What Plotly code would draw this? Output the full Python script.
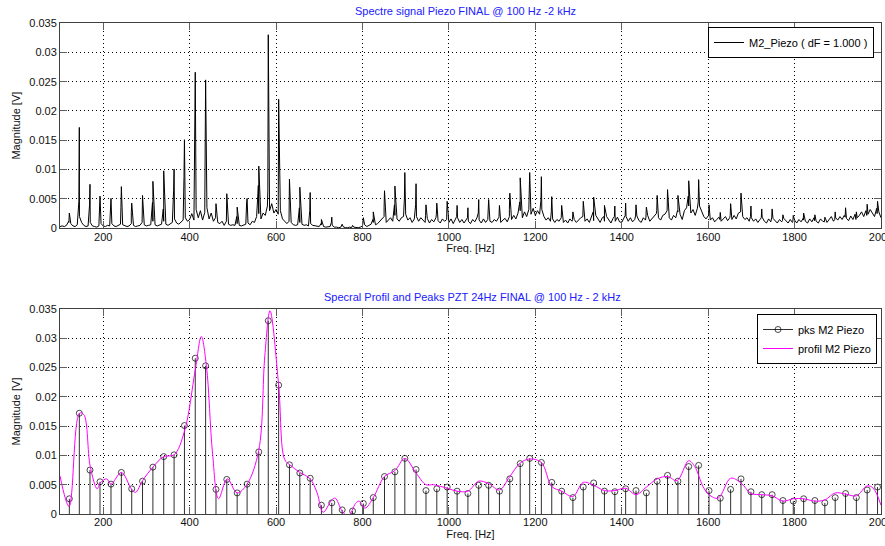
import plotly.graph_objects as go

# ---------------- data ----------------
# harmonic peaks of the piezo spectrum (Hz, V)
pk_freq = [121.6, 144.7, 169.4, 192.6, 218, 242, 266, 291, 315, 340, 364, 388, 413, 437, 461, 486, 510, 533, 560, 582,
           606, 631, 655, 679, 705,
           729, 753, 777, 802, 825, 851, 875, 898, 924, 947, 972, 996, 1019, 1044, 1069, 1092, 1117, 1141, 1165, 1187,
           1214, 1238, 1261, 1287, 1311, 1335,
           1360, 1384, 1409, 1433, 1457, 1482, 1506, 1530, 1555, 1578, 1602, 1628, 1652, 1676, 1699, 1724, 1748, 1773,
           1797, 1821, 1847, 1870, 1894, 1918, 1943, 1968, 1992]
pk_mag = [0.0026, 0.0172, 0.0075, 0.0055, 0.0051, 0.0071, 0.0043, 0.0056, 0.0080, 0.0098, 0.0101, 0.0151, 0.0266,
          0.0253, 0.0042, 0.0059, 0.0036, 0.0051, 0.0106, 0.0330, 0.0220, 0.0084, 0.0070, 0.0061, 0.0015,
          0.0019, 0.0007, 0.0005, 0.0018, 0.0028, 0.0064, 0.0072, 0.0095, 0.0076, 0.0040, 0.0043, 0.0046, 0.0039,
          0.0035, 0.0049, 0.0049, 0.0039, 0.0060, 0.0086, 0.0095, 0.0088, 0.0054, 0.0039, 0.0028, 0.0046, 0.0053,
          0.0039, 0.0038, 0.0043, 0.0040, 0.0036, 0.0056, 0.0066, 0.0056, 0.0081, 0.0083, 0.0040, 0.0027, 0.0042,
          0.0060, 0.0038, 0.0033, 0.0033, 0.0023, 0.0022, 0.0026, 0.0023, 0.0019, 0.0028, 0.0035, 0.0028, 0.0041,
          0.0046]
# neighbouring bin next to each peak (units of 1e-4 V)
side_mag_e4 = [10, 46, 40, 42, 35, 35, 27, 32, 44, 33, 65, 88, 138, 150, 33, 33, 20, 45, 73, 65, 162, 72, 35, 30, 8,
               10, 4, 3, 9, 15, 35, 40, 50, 40, 22, 24, 25, 20, 18, 26, 25, 20, 32, 45, 50, 48, 28, 20, 15, 25, 28,
               20, 20, 22, 21, 19, 30, 35, 30, 55, 45, 22, 15, 22, 32, 20, 18, 18, 13, 12, 14, 13, 11, 15, 19, 15,
               22, 25]
# noise floor of the spectrum, every 5 Hz from 100 Hz to 2000 Hz (units of 1e-4 V)
floor_mag_e4 = [
    3, 4, 3, 5, 12, 8, 4, 3, 6, 20, 10, 5, 3, 4, 10, 4, 3, 2, 4, 8,
    4, 3, 5, 4, 8, 4, 3, 5, 7, 6, 4, 3, 4, 8, 5, 3, 4, 5, 10, 6,
    4, 5, 6, 12, 6, 4, 5, 7, 12, 7, 5, 8, 10, 16, 9, 7, 10, 14, 18, 12,
    15, 25, 14, 32, 18, 30, 14, 27, 35, 16, 26, 12, 18, 10, 8, 12, 5, 12, 7, 5,
    6, 5, 8, 5, 4, 6, 7, 9, 6, 12, 10, 20, 25, 16, 26, 22, 38, 30, 42, 26,
    32, 24, 30, 16, 12, 8, 12, 10, 6, 5, 6, 10, 7, 5, 6, 4, 8, 5, 4, 3,
    3, 6, 3, 2, 2, 3, 5, 2, 2, 1, 2, 3, 1, 1, 2, 1, 2, 1, 1, 2,
    4, 6, 3, 5, 7, 10, 6, 8, 12, 15, 20, 10, 14, 18, 12, 22, 16, 12, 18, 20,
    24, 14, 18, 10, 16, 20, 12, 18, 14, 10, 17, 9, 15, 11, 18, 13, 9, 16, 12, 15,
    10, 16, 8, 14, 18, 10, 15, 9, 16, 12, 8, 15, 11, 18, 14, 9, 16, 10, 15, 12,
    10, 15, 12, 18, 10, 14, 17, 11, 20, 15, 22, 16, 26, 30, 18, 28, 20, 32, 24, 34,
    22, 30, 24, 32, 20, 14, 18, 12, 16, 10, 15, 12, 18, 10, 14, 9, 16, 12, 15, 10,
    14, 18, 20, 12, 16, 10, 19, 13, 22, 15, 10, 18, 12, 20, 14, 9, 17, 12, 19, 11,
    10, 16, 20, 12, 18, 11, 15, 21, 13, 10, 18, 14, 22, 12, 17, 20, 25, 18, 14, 22,
    24, 30, 18, 14, 22, 18, 28, 24, 15, 30, 35, 38, 26, 32, 22, 34, 38, 28, 20, 16,
    20, 14, 18, 11, 15, 19, 12, 16, 20, 13, 18, 15, 22, 16, 26, 28, 20, 15, 18, 12,
    18, 12, 16, 10, 15, 19, 12, 9, 16, 11, 17, 12, 9, 15, 11, 17, 12, 9, 15, 10,
    14, 9, 15, 11, 17, 12, 9, 16, 11, 18, 12, 9, 16, 12, 18, 10, 15, 20, 12, 18,
    14, 20, 15, 22, 17, 13, 21, 15, 24, 18, 22, 28, 20, 30, 24, 32, 26, 20, 34, 28,
    18]
floor_df = 5
# spectral profile (smooth envelope)
prof_freq = [100, 121, 145, 155, 170, 186, 193, 208, 218, 242, 266, 275, 291, 315, 340, 364, 388, 413, 427, 439, 453,
             467, 487, 510, 533, 560, 574, 586, 606, 620, 632, 655, 679, 695, 709, 729, 737, 753, 767, 784, 792, 806,
             825, 851, 875, 898, 924, 947, 964, 996, 1019, 1044, 1069, 1092, 1117, 1141, 1165, 1187, 1214, 1238,
             1261, 1287, 1311, 1335, 1360, 1384, 1409, 1433, 1457, 1482, 1506, 1528, 1555, 1569, 1588, 1602, 1623,
             1652, 1676, 1699, 1724, 1748, 1773, 1797, 1821, 1847, 1870, 1894, 1918, 1943, 1968, 1982, 2000]
prof_mag = [0.0065, 0.0013, 0.0172, 0.0170, 0.0081, 0.0043, 0.0053, 0.0060, 0.0051, 0.0071, 0.0042, 0.0037, 0.0057,
            0.0080, 0.0098, 0.0101, 0.0141, 0.0246, 0.0303, 0.0252, 0.0104, 0.0026, 0.0060, 0.0036, 0.0051, 0.0109,
            0.0270, 0.0347, 0.0220, 0.0093, 0.0084, 0.0071, 0.0060, 0.0036, 0.0003, 0.0024, 0.0027, 0.0005,
            -0.0004, 0.0018, 0.0022, 0.0010, 0.0028, 0.0064, 0.0074, 0.0095, 0.0070, 0.0050, 0.0050, 0.0044,
            0.0039, 0.0039, 0.0056, 0.0052, 0.0041, 0.0064, 0.0087, 0.0094, 0.0088, 0.0047, 0.0039, 0.0030,
            0.0054, 0.0049, 0.0040, 0.0040, 0.0044, 0.0033, 0.0046, 0.0060, 0.0064, 0.0057, 0.0091, 0.0081,
            0.0047, 0.0033, 0.0027, 0.0061, 0.0053, 0.0035, 0.0033, 0.0031, 0.0022, 0.0026, 0.0026, 0.0022,
            0.0024, 0.0036, 0.0034, 0.0031, 0.0048, 0.0044, 0.0015]

x_ticks = [200, 400, 600, 800, 1000, 1200, 1400, 1600, 1800, 2000]
y_ticks = [0, 0.005, 0.01, 0.015, 0.02, 0.025, 0.03, 0.035]
y_ticktext = ["0", "0.005", "0.01", "0.015", "0.02", "0.025", "0.03", "0.035"]

title_top = "Spectre signal Piezo FINAL @ 100 Hz -2 kHz"
title_bot = "Specral Profil and Peaks PZT 24Hz FINAL @ 100 Hz - 2 kHz"

# ---------------- build spectrum polyline ----------------
pts = [(100 + floor_df * i, m * 1e-4) for i, m in enumerate(floor_mag_e4)]
pts += [(f - 1, m * 1e-4) for f, m in zip(pk_freq, side_mag_e4)]
pts += list(zip(pk_freq, pk_mag))
pts.sort(key=lambda p: p[0])
spec_f = [p[0] for p in pts]
spec_m = [p[1] for p in pts]

# stems (None separates the individual stems)
st_x, st_y, st_s = [], [], []
for f, m in zip(pk_freq, pk_mag):
    st_x += [f, f, None]
    st_y += [0, m, None]
    st_s += [0, 6, 12]

FONT = "Liberation Sans, Arial, sans-serif"
W, H = 885, 546
ML, MR, MT, MB = 60, 4, 23, 32
ph = H - MT - MB
pw = W - ML - MR


def py(pix):
    return (H - MB - pix) / ph


def px(pix):
    return (pix - ML) / pw


fig = go.Figure()
fig.add_trace(go.Scatter(x=spec_f, y=spec_m, mode="lines", name="M2_Piezo ( dF = 1.000 )", showlegend=True,
                         line=dict(color="black", width=1), xaxis="x", yaxis="y", legend="legend"))
fig.add_trace(go.Scatter(x=st_x, y=st_y, mode="lines+markers", name="pks M2 Piezo", showlegend=True,
                         line=dict(color="#303030", width=1),
                         marker=dict(symbol="circle-open", size=st_s, color="black", line=dict(width=1)),
                         xaxis="x2", yaxis="y2", legend="legend2"))
fig.add_trace(go.Scatter(x=prof_freq, y=prof_mag, mode="lines", name="profil M2 Piezo", showlegend=True,
                         line=dict(color="#ff00ff", width=1, shape="spline", smoothing=1),
                         xaxis="x2", yaxis="y2", legend="legend2"))

axis_common = dict(showline=True, mirror="ticks", linecolor="#404040", linewidth=1,
                   ticks="inside", ticklen=7, tickcolor="#606060", tickwidth=1,
                   showgrid=True, gridcolor="#000000", gridwidth=1, griddash="1px,3px",
                   zeroline=False, tickfont=dict(size=11, color="#111"), automargin=False,
                   ticklabeloverflow="allow")
xa = dict(axis_common, range=[100, 2000], tickvals=x_ticks, ticktext=[str(v) for v in x_ticks],
          ticklabelstandoff=-2,
          title=dict(text="Freq. [Hz]", font=dict(size=11, color="#111"), standoff=2))
ya = dict(axis_common, range=[0, 0.035], tickvals=y_ticks, ticktext=y_ticktext,
          title=dict(text="Magnitude [V]", font=dict(size=11, color="#111"), standoff=6))

legend_common = dict(bgcolor="white", bordercolor="black", borderwidth=1,
                     font=dict(size=11, family=FONT, color="black"),
                     xanchor="right", yanchor="top", itemwidth=30, tracegroupgap=0)

fig.update_layout(
    width=W, height=H,
    margin=dict(l=ML, r=MR, t=MT, b=MB),
    paper_bgcolor="white", plot_bgcolor="white",
    font=dict(family=FONT, size=11, color="#111"),
    showlegend=True,
    xaxis=dict(xa, domain=[0, 1], anchor="y"),
    yaxis=dict(ya, domain=[py(228.3), 1], anchor="x"),
    xaxis2=dict(xa, domain=[0, 1], anchor="y2"),
    yaxis2=dict(ya, domain=[0, py(309)], anchor="x2"),
    legend=dict(legend_common, x=px(874), y=py(27)),
    legend2=dict(legend_common, x=px(877), y=py(314)),
    annotations=[
        dict(text=title_top, x=px(465), y=py(11), xref="paper", yref="paper", showarrow=False,
             font=dict(size=11, color="#2020ff"), xanchor="center", yanchor="middle"),
        dict(text=title_bot, x=px(472), y=py(297), xref="paper", yref="paper", showarrow=False,
             font=dict(size=11, color="#2020ff"), xanchor="center", yanchor="middle"),
    ],
)

# remove the browser's default 8px body margin so the figure sits at the page origin
fig.write_html("out.html", config={"displayModeBar": False},
               post_script="document.body.style.margin='0';")
